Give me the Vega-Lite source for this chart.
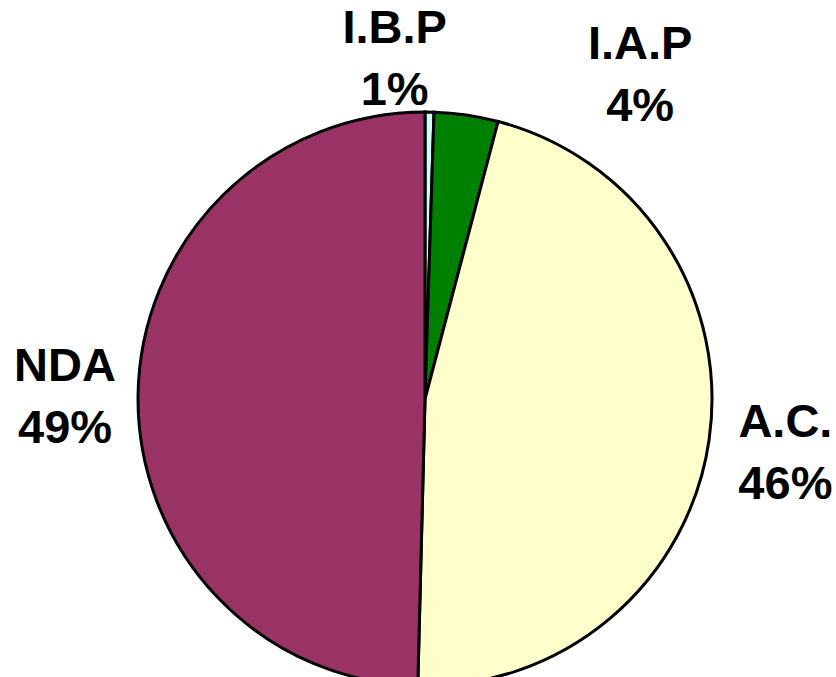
{
  "$schema": "https://vega.github.io/schema/vega-lite/v6.json",
  "width": 574,
  "height": 574,
  "padding": {"left": 138, "top": 112, "right": 124, "bottom": 0},
  "autosize": {"type": "none"},
  "background": "white",
  "config": {"view": {"stroke": null}},
  "data": {
    "values": [
      {"party": "I.B.P", "share": 0.5, "text": "I.B.P\n1%", "order": 1},
      {"party": "I.A.P", "share": 3.6, "text": "I.A.P\n4%", "order": 2},
      {"party": "A.C.", "share": 46.3, "text": "A.C.\n46%", "order": 3},
      {"party": "NDA", "share": 49.6, "text": "NDA\n49%", "order": 4}
    ]
  },
  "encoding": {
    "theta": {"field": "share", "type": "quantitative", "stack": true},
    "order": {"field": "order", "type": "quantitative"}
  },
  "layer": [
    {
      "mark": {"type": "arc", "stroke": "black", "strokeWidth": 3},
      "encoding": {
        "color": {
          "field": "party",
          "type": "nominal",
          "scale": {
            "domain": ["I.B.P", "I.A.P", "A.C.", "NDA"],
            "range": ["#CCFFFF", "#008000", "#FFFFCC", "#993366"]
          },
          "legend": null
        }
      }
    },
    {
      "mark": {"type": "text", "radius": 362, "dx": 2, "dy": -27, "font": "Liberation Sans", "fontWeight": "bold", "fontSize": 47, "lineHeight": 62, "lineBreak": "\n", "align": "center", "baseline": "middle", "color": "black"},
      "encoding": {
        "text": {"condition": {"test": "datum.party == 'A.C.' || datum.party == 'NDA'", "field": "text"}, "value": ""}
      }
    },
    {
      "mark": {"type": "text", "radius": 362, "dx": -36, "dy": -8, "font": "Liberation Sans", "fontWeight": "bold", "fontSize": 47, "lineHeight": 62, "lineBreak": "\n", "align": "center", "baseline": "middle", "color": "black"},
      "encoding": {
        "text": {"condition": {"test": "datum.party == 'I.B.P'", "field": "text"}, "value": ""}
      }
    },
    {
      "mark": {"type": "text", "radius": 362, "dx": 163, "dy": 4, "font": "Liberation Sans", "fontWeight": "bold", "fontSize": 47, "lineHeight": 62, "lineBreak": "\n", "align": "center", "baseline": "middle", "color": "black"},
      "encoding": {
        "text": {"condition": {"test": "datum.party == 'I.A.P'", "field": "text"}, "value": ""}
      }
    }
  ]
}
